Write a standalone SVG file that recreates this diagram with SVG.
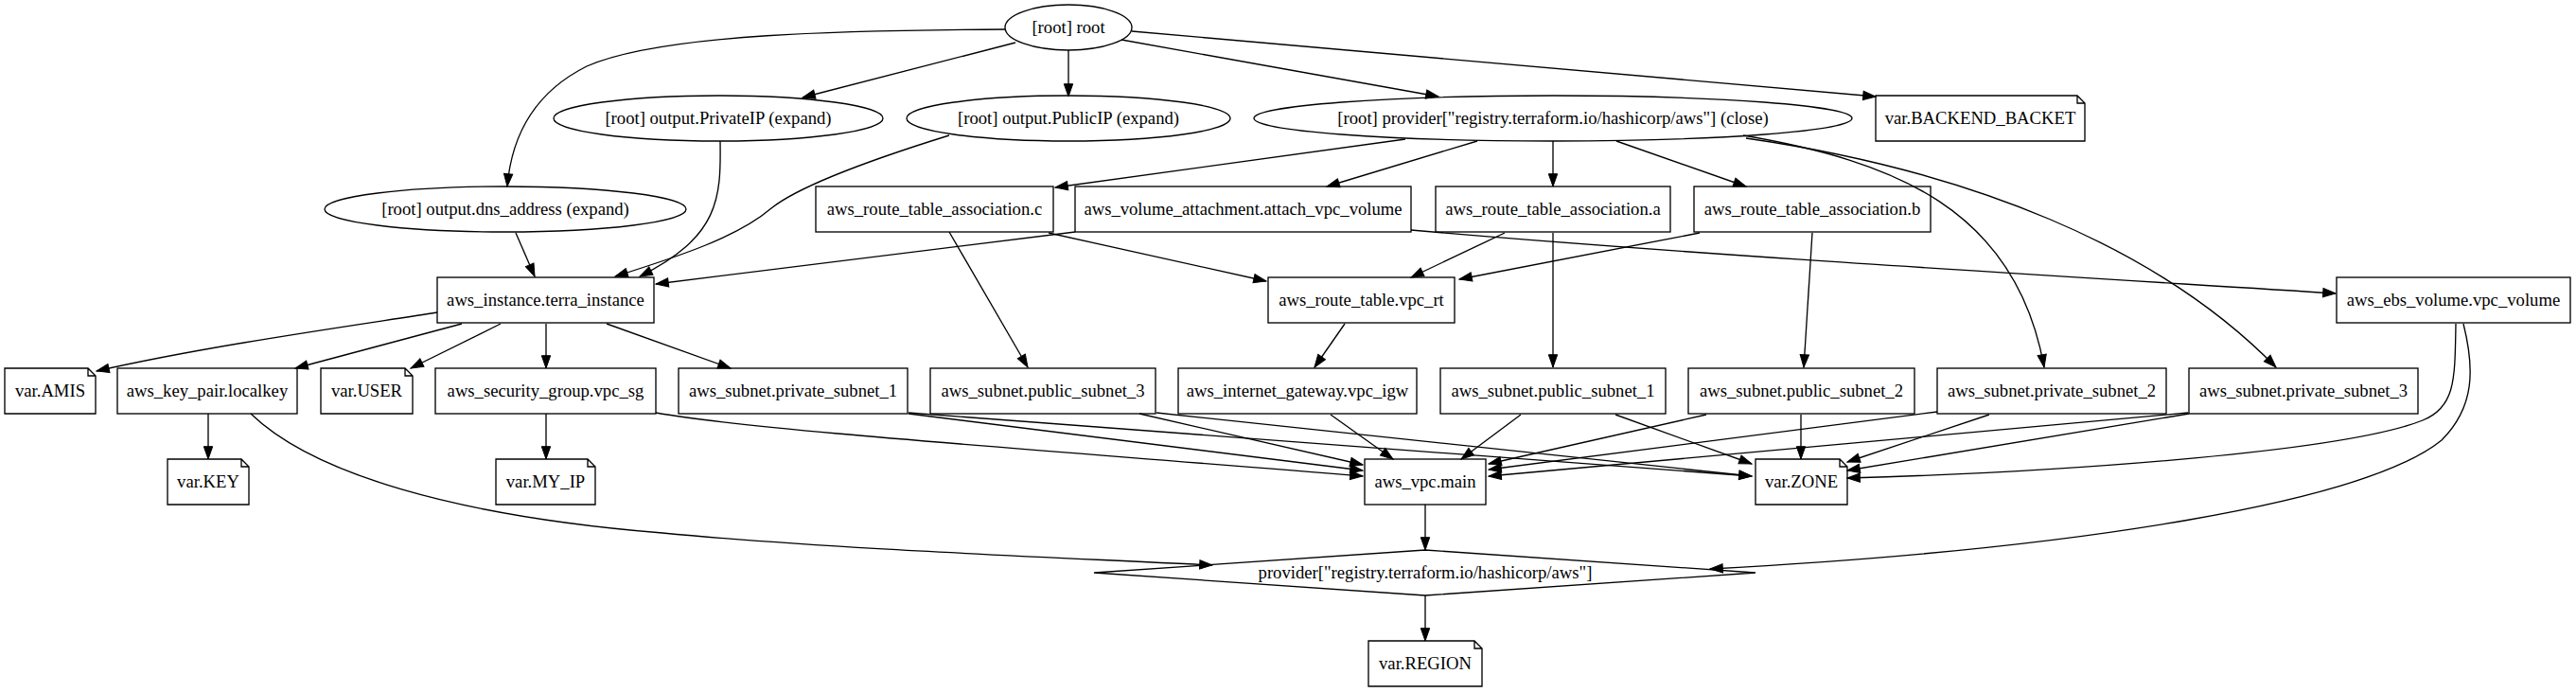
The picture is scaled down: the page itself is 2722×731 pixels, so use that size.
<svg xmlns="http://www.w3.org/2000/svg" width="2722" height="731" viewBox="0 0 2722 731">
<style>
.s{fill:none;stroke:#000;stroke-width:1.33}
.e{fill:none;stroke:#000;stroke-width:1.33;marker-end:url(#ah)}
text{font-family:"Liberation Serif","Times New Roman",serif;font-size:18.67px;text-anchor:middle;fill:#000}
</style>
<defs>
<marker id="ah" markerUnits="userSpaceOnUse" markerWidth="14" markerHeight="10" refX="13.3" refY="4.67" orient="auto" overflow="visible">
<path d="M0,0 L13.3,4.67 L0,9.33 z" fill="#000" stroke="#000" stroke-width="1"/>
</marker>
</defs>
<rect width="2722" height="731" fill="#fff"/>
<g id="connectors">
<path class="e" d="M1073,45 L848,103"/>
<path class="e" d="M1129,53 L1129,102"/>
<path class="e" d="M1185,42 L1520,102"/>
<path class="e" d="M1196,33 L1982,102"/>
<path class="e" d="M1062,31 C900,32 700,35 620,70 C560,100 540,150 536,197"/>
<path class="e" d="M1485,147 L1115,198"/>
<path class="e" d="M1561,149 L1402,197"/>
<path class="e" d="M1641,149 L1641,197"/>
<path class="e" d="M1708,149 L1845,197"/>
<path class="e" d="M1842,143 C2000,170 2130,220 2160,388"/>
<path class="e" d="M1845,146 C2080,180 2280,260 2405,388"/>
<path class="e" d="M1108,246 L1338,297"/>
<path class="e" d="M1003,245 L1086,388"/>
<path class="e" d="M1136,245 L693,300"/>
<path class="e" d="M1491,243 C1800,270 2200,293 2468,310"/>
<path class="e" d="M1590,246 L1491,293"/>
<path class="e" d="M1641,246 L1641,388"/>
<path class="e" d="M1796,246 L1542,295"/>
<path class="e" d="M1915,246 L1906,388"/>
<path class="e" d="M1421,342 L1389,388"/>
<path class="e" d="M761,149 C762,210 760,250 676,292"/>
<path class="e" d="M1003,143 C900,175 840,200 815,220 C780,250 720,270 650,292"/>
<path class="e" d="M545,246 L565,292"/>
<path class="e" d="M462,330 C380,343 220,365 102,392"/>
<path class="e" d="M488,342 L312,389"/>
<path class="e" d="M529,342 L434,389"/>
<path class="e" d="M577,342 L577,389"/>
<path class="e" d="M641,342 L772,389"/>
<path class="e" d="M220,437 L220,485"/>
<path class="e" d="M265,437 C330,500 480,545 700,563 C880,580 1100,588 1281,597"/>
<path class="e" d="M577,437 L577,485"/>
<path class="e" d="M693,436 C800,455 1100,475 1440,503"/>
<path class="e" d="M960,437 L1440,497"/>
<path class="e" d="M960,436 L1851,503"/>
<path class="e" d="M1204,437 L1440,491"/>
<path class="e" d="M1222,436 L1851,503"/>
<path class="e" d="M1406,438 L1472,485"/>
<path class="e" d="M1607,438 L1544,485"/>
<path class="e" d="M1707,438 L1851,490"/>
<path class="e" d="M1803,438 L1573,490"/>
<path class="e" d="M1903,438 L1903,485"/>
<path class="e" d="M2047,435 L1573,496"/>
<path class="e" d="M2102,438 L1952,488"/>
<path class="e" d="M2312,436 L1573,503"/>
<path class="e" d="M2313,437 L1952,497"/>
<path class="e" d="M2595,342 C2594,400 2595,430 2560,444 C2480,476 2200,498 1952,505"/>
<path class="e" d="M2603,342 C2615,390 2615,430 2580,465 C2500,530 2200,580 1807,601"/>
<path class="e" d="M1506,533 L1506,581"/>
<path class="e" d="M1506,629 L1506,677"/>
</g>
<g id="n_root"><ellipse class="s" cx="1129" cy="29" rx="67" ry="24"/><text x="1129" y="35">[root] root</text></g>
<g id="n_privateip"><ellipse class="s" cx="759" cy="125" rx="174" ry="24"/><text x="759" y="131">[root] output.PrivateIP (expand)</text></g>
<g id="n_publicip"><ellipse class="s" cx="1129" cy="125" rx="171" ry="24"/><text x="1129" y="131">[root] output.PublicIP (expand)</text></g>
<g id="n_provider_close"><ellipse class="s" cx="1641" cy="125" rx="316" ry="24"/><text x="1641" y="131">[root] provider["registry.terraform.io/hashicorp/aws"] (close)</text></g>
<g id="n_dns"><ellipse class="s" cx="534" cy="221" rx="191" ry="24"/><text x="534" y="227">[root] output.dns_address (expand)</text></g>
<g id="n_backend"><path class="s" d="M1982,101 L2195,101 L2203,109 L2203,149 L1982,149 Z M2195,101 L2195,109 L2203,109"/><text x="2092.5" y="131">var.BACKEND_BACKET</text></g>
<g id="n_rta_c"><rect class="s" x="862" y="197" width="251" height="48"/><text x="987.5" y="227">aws_route_table_association.c</text></g>
<g id="n_vol_att"><rect class="s" x="1136" y="197" width="355" height="48"/><text x="1313.5" y="227">aws_volume_attachment.attach_vpc_volume</text></g>
<g id="n_rta_a"><rect class="s" x="1517" y="197" width="248" height="48"/><text x="1641" y="227">aws_route_table_association.a</text></g>
<g id="n_rta_b"><rect class="s" x="1790" y="197" width="250" height="48"/><text x="1915" y="227">aws_route_table_association.b</text></g>
<g id="n_instance"><rect class="s" x="462" y="293" width="229" height="48"/><text x="576.5" y="323">aws_instance.terra_instance</text></g>
<g id="n_vpc_rt"><rect class="s" x="1340" y="293" width="197" height="48"/><text x="1438.5" y="323">aws_route_table.vpc_rt</text></g>
<g id="n_ebs"><rect class="s" x="2469" y="293" width="247" height="48"/><text x="2592.5" y="323">aws_ebs_volume.vpc_volume</text></g>
<g id="n_amis"><path class="s" d="M5,389 L93,389 L101,397 L101,437 L5,437 Z M93,389 L93,397 L101,397"/><text x="53" y="419">var.AMIS</text></g>
<g id="n_key_pair"><rect class="s" x="124" y="389" width="190" height="48"/><text x="219" y="419">aws_key_pair.localkey</text></g>
<g id="n_user"><path class="s" d="M339,389 L428,389 L436,397 L436,437 L339,437 Z M428,389 L428,397 L436,397"/><text x="387.5" y="419">var.USER</text></g>
<g id="n_vpc_sg"><rect class="s" x="460" y="389" width="233" height="48"/><text x="576.5" y="419">aws_security_group.vpc_sg</text></g>
<g id="n_priv1"><rect class="s" x="717" y="389" width="242" height="48"/><text x="838" y="419">aws_subnet.private_subnet_1</text></g>
<g id="n_pub3"><rect class="s" x="983" y="389" width="238" height="48"/><text x="1102" y="419">aws_subnet.public_subnet_3</text></g>
<g id="n_igw"><rect class="s" x="1245" y="389" width="252" height="48"/><text x="1371" y="419">aws_internet_gateway.vpc_igw</text></g>
<g id="n_pub1"><rect class="s" x="1522" y="389" width="238" height="48"/><text x="1641" y="419">aws_subnet.public_subnet_1</text></g>
<g id="n_pub2"><rect class="s" x="1784" y="389" width="239" height="48"/><text x="1903.5" y="419">aws_subnet.public_subnet_2</text></g>
<g id="n_priv2"><rect class="s" x="2047" y="389" width="242" height="48"/><text x="2168" y="419">aws_subnet.private_subnet_2</text></g>
<g id="n_priv3"><rect class="s" x="2313" y="389" width="242" height="48"/><text x="2434" y="419">aws_subnet.private_subnet_3</text></g>
<g id="n_key"><path class="s" d="M177,485 L255,485 L263,493 L263,533 L177,533 Z M255,485 L255,493 L263,493"/><text x="220" y="515">var.KEY</text></g>
<g id="n_my_ip"><path class="s" d="M524,485 L621,485 L629,493 L629,533 L524,533 Z M621,485 L621,493 L629,493"/><text x="576.5" y="515">var.MY_IP</text></g>
<g id="n_vpc_main"><rect class="s" x="1442" y="485" width="128" height="48"/><text x="1506" y="515">aws_vpc.main</text></g>
<g id="n_zone"><path class="s" d="M1855,485 L1944,485 L1952,493 L1952,533 L1855,533 Z M1944,485 L1944,493 L1952,493"/><text x="1903.5" y="515">var.ZONE</text></g>
<g id="n_provider"><polygon class="s" points="1506,581 1855,605 1506,629 1156,605"/><text x="1506" y="611">provider["registry.terraform.io/hashicorp/aws"]</text></g>
<g id="n_region"><path class="s" d="M1446,677 L1558,677 L1566,685 L1566,725 L1446,725 Z M1558,677 L1558,685 L1566,685"/><text x="1506" y="707">var.REGION</text></g>
</svg>
